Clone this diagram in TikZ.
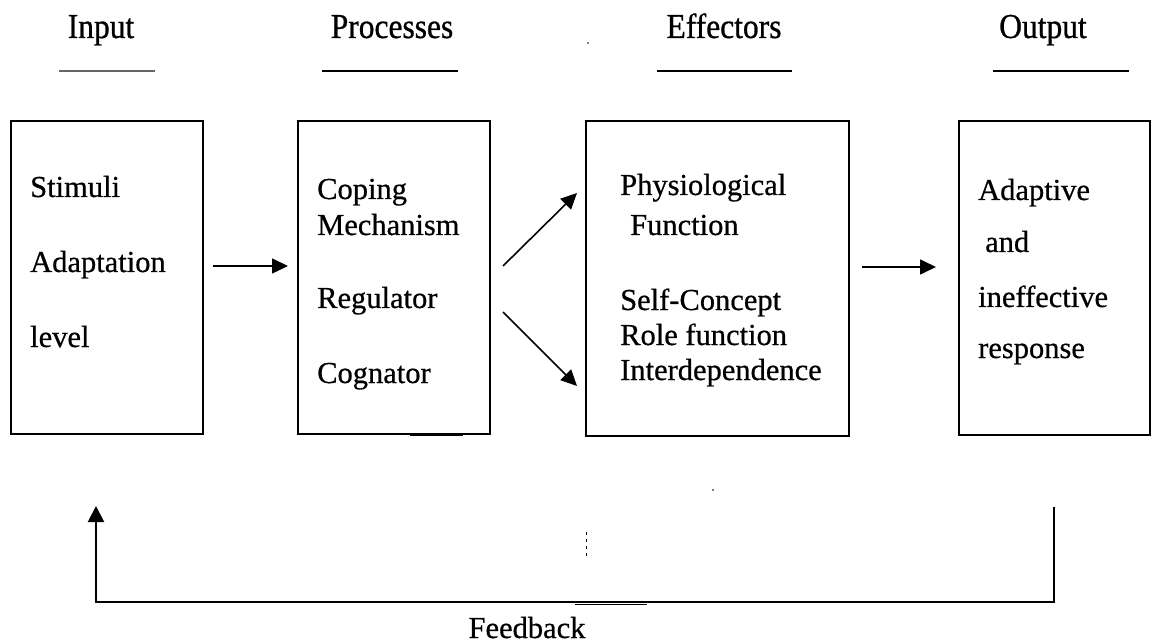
\documentclass[tikz,border=0pt]{standalone}
\usepackage{fontspec}
\setmainfont{Liberation Serif}[FakeBold=0.6]
\newfontfamily\hdfont{Liberation Serif}[FakeStretch=0.9,FakeBold=0.8]
\usetikzlibrary{arrows.meta}
\begin{document}
\begin{tikzpicture}[x=1pt,y=-1pt,
  box/.style={draw, line width=2pt, anchor=north west, inner sep=0pt},
  hd/.style={anchor=base, inner sep=0pt, font=\hdfont\fontsize{35}{40}\selectfont},
  txt/.style={anchor=base west, inner sep=0pt, font=\fontsize{30.5}{36}\selectfont},
  arr/.style={line width=1.6pt, -{Triangle[length=16pt,width=15pt]}},
  fbline/.style={line width=2pt},
  uline/.style={line width=2.2pt}]
\useasboundingbox (0,0) rectangle (1151,644);
% headers
\node[hd] (hIn) at (101,38) {Input};
\node[hd] (hPr) at (392,38) {Processes};
\node[hd] (hEf) at (724,38) {Effectors};
\node[hd] (hOut) at (1043,38) {Output};
\draw[uline, black!60] (59,71) -- (155,71);
\draw[uline] (322,71) -- (458,71);
\draw[line width=1.5pt] (657,71) -- (792,71);
\draw[uline] (993,71) -- (1129,71);
% boxes
\node[box, minimum width=192pt, minimum height=313pt] (b1) at (10,120) {};
\node[box, minimum width=192pt, minimum height=313pt] (b2) at (297,120) {};
\node[box, minimum width=263pt, minimum height=315pt] (b3) at (585,120) {};
\node[box, minimum width=191pt, minimum height=314pt] (b4) at (958,120) {};
% box texts
\node[txt] (t11) at (30,197) {Stimuli};
\node[txt] (t12) at (30,272) {Adaptation};
\node[txt] (t13) at (30,347) {level};
\node[txt] (t21) at (317,199) {Coping};
\node[txt] (t22) at (317,235) {Mechanism};
\node[txt] (t23) at (317,308) {Regulator};
\node[txt] (t24) at (317,383) {Cognator};
\node[txt] (t31) at (620,195) {Physiological};
\node[txt] (t32) at (630,235) {Function};
\node[txt] (t33) at (620,310) {Self-Concept};
\node[txt] (t34) at (620,345) {Role function};
\node[txt] (t35) at (620,380) {Interdependence};
\node[txt] (t41) at (978,200) {Adaptive};
\node[txt] (t42) at (985,252) {and};
\node[txt] (t43) at (978,307) {ineffective};
\node[txt] (t44) at (978,358) {response};
% arrows
\coordinate (a1s) at (213,266);
\coordinate (a1e) at (288,266);
\coordinate (a2s) at (503,266);
\coordinate (a2e) at (577,193);
\coordinate (a3s) at (503,312);
\coordinate (a3e) at (577,386);
\coordinate (a4s) at (862,267);
\coordinate (a4e) at (936,267);
\draw[arr] (a1s) -- (a1e);
\draw[arr] (a2s) -- (a2e);
\draw[arr] (a3s) -- (a3e);
\draw[arr] (a4s) -- (a4e);
% feedback loop
\coordinate (fR) at (1054,507);
\coordinate (fRb) at (1054,602);
\coordinate (fLb) at (96,602);
\coordinate (fL) at (96,506);
\draw[fbline, -{Triangle[length=16pt,width=16pt]}] (fR) -- (fRb) -- (fLb) -- (fL);
\draw[line width=1pt] (575,604) -- (647,604);
\node[anchor=base, inner sep=0pt, font=\fontsize{30.5}{36}\selectfont] (fbk) at (527,638) {Feedback};
% small marks
\draw[line width=2pt] (410,435) -- (463,435);
\draw[line width=1pt] (625,436) -- (848,436);
\draw[line width=0.8pt, dash pattern=on 3pt off 4pt] (586,532) -- (586,558);
\fill (713,490) circle (0.8);
\fill (588,43) circle (0.9);
\end{tikzpicture}
\end{document}
